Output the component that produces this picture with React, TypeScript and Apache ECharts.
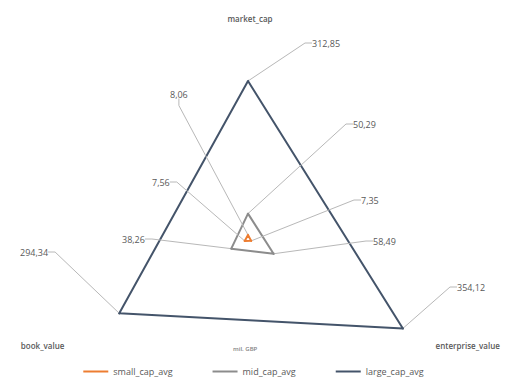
import React, { useEffect, useRef } from 'react';
import * as echarts from 'echarts';

// ---- data ----
const indicators = ['market_cap', 'book_value', 'enterprise_value'];
const seriesNames = ['small_cap_avg', 'mid_cap_avg', 'large_cap_avg'];
const smallCapAvg = [8.06, 7.56, 7.35];
const midCapAvg = [50.29, 38.26, 58.49];
const largeCapAvg = [312.85, 294.34, 354.12];
const axisMax = 400;
const unitLabel = 'mil. GBP';

// ---- styles ----
const seriesColors = ['#ED7D31', '#8C8C8C', '#44546A'];
// label placement (left edge, middle y) per series, per indicator
const labelPlacement: [number, number][][] = [
  [[167, 94], [149, 182], [358, 200]],
  [[350, 124], [119, 239], [370, 241]],
  [[309, 43], [17, 252], [454, 287]],
];
const fmt = (v: number) => v.toFixed(2).replace('.', ',');

export default function App() {
  const ref = useRef<HTMLDivElement>(null);
  useEffect(() => {
    if (!ref.current) return;
    const chart = echarts.init(ref.current, undefined, { renderer: 'svg' });
    const allValues = [smallCapAvg, midCapAvg, largeCapAvg];
    const series = allValues.map((vals, si) => ({
      type: 'radar',
      name: seriesNames[si],
      z: 10 - si,
      symbol: 'circle',
      symbolSize: 2,
      itemStyle: { color: seriesColors[si] },
      lineStyle: { color: seriesColors[si], width: 2 },
      data: [{ value: vals, name: seriesNames[si] }],
      label: {
        show: true,
        formatter: (p: any) => fmt(p.value),
        color: '#595959',
        fontFamily: 'Open Sans',
        fontSize: 9,
        padding: [1, 3],
      },
      labelLine: {
        show: true,
        length2: 7,
        lineStyle: { color: '#B8B8B8', width: 1 },
      },
      labelLayout: (p: any) => {
        const idx = vals.findIndex((v) => fmt(v) === p.text);
        const pos = labelPlacement[si][idx < 0 ? 0 : idx];
        return { x: pos[0], y: pos[1], align: 'left', verticalAlign: 'middle' };
      },
    }));
    chart.setOption({
      animation: false,
      radar: {
        center: [248, 239],
        radius: 202,
        startAngle: 90,
        shape: 'polygon',
        indicator: indicators.map((n) => ({ name: n, min: 0, max: axisMax })),
        splitNumber: 4,
        axisName: {
          color: '#595959',
          fontFamily: 'Open Sans',
          fontSize: 8,
          fontWeight: 600,
          lineHeight: 0,
          padding: [0, 0, 9, 4],
        },
        nameGap: 10,
        splitLine: { show: false },
        splitArea: { show: false },
        axisLine: { show: false },
        axisTick: { show: false },
        axisLabel: { show: false },
      },
      legend: {
        data: seriesNames,
        bottom: 2,
        left: 'center',
        icon: 'rect',
        itemWidth: 25,
        itemHeight: 2,
        itemGap: 40,
        textStyle: { color: '#595959', fontFamily: 'Open Sans', fontSize: 9 },
      },
      graphic: [
        {
          type: 'text',
          left: 233,
          top: 346,
          style: {
            text: unitLabel,
            fill: '#7F7F7F',
            font: '600 6px "Open Sans"',
          },
        },
      ],
      series,
    });
    return () => chart.dispose();
  }, []);
  return (
    <div
      ref={ref}
      style={{ position: 'absolute', left: 0, top: 0, width: 507, height: 383, background: '#fff' }}
    />
  );
}
